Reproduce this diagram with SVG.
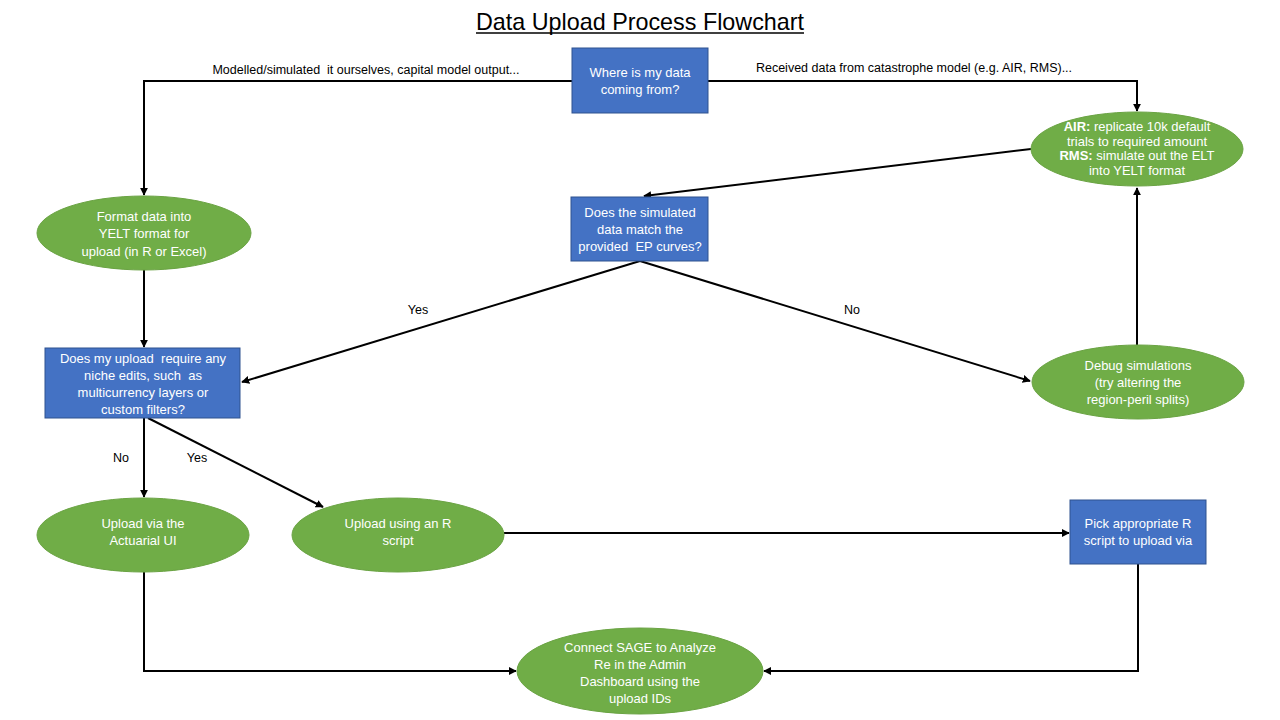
<svg xmlns="http://www.w3.org/2000/svg" width="1280" height="720" viewBox="0 0 1280 720">
<style>
.box{fill:#4472C4;stroke:#2F528F;stroke-width:1}
.ell{fill:#70AD47;stroke:#6AA343;stroke-width:1}
.nt{font-family:"Liberation Sans",Arial,sans-serif;font-size:13px;fill:#FFFFFF;text-anchor:middle}
.lb{font-family:"Liberation Sans",Arial,sans-serif;font-size:12.5px;fill:#000000;text-anchor:middle}
.cn{fill:none;stroke:#000000;stroke-width:2}
</style>
<defs>
<marker id="ah" viewBox="0 0 10 10" refX="9" refY="5" markerWidth="4" markerHeight="4" orient="auto" markerUnits="strokeWidth">
<path d="M0,0 L10,5 L0,10 z" fill="#000000"/>
</marker>
</defs>
<rect width="1280" height="720" fill="#FFFFFF"/>
<g id="title">
<text x="640" y="30" font-family="'Liberation Sans',Arial,sans-serif" font-size="24" text-anchor="middle" fill="#000000" textLength="328" lengthAdjust="spacingAndGlyphs">Data Upload Process Flowchart</text>
<line x1="476" y1="33" x2="804" y2="33" stroke="#000" stroke-width="1.5"/>
</g>
<g id="connectors">
<polyline class="cn" points="572,81 144,81 144,195" marker-end="url(#ah)"/>
<polyline class="cn" points="708,81 1137,81 1137,111" marker-end="url(#ah)"/>
<line class="cn" x1="1031" y1="149" x2="644" y2="196" marker-end="url(#ah)"/>
<line class="cn" x1="144" y1="270" x2="144" y2="347" marker-end="url(#ah)"/>
<line class="cn" x1="640" y1="261" x2="242" y2="382" marker-end="url(#ah)"/>
<line class="cn" x1="640" y1="261" x2="1030" y2="381" marker-end="url(#ah)"/>
<line class="cn" x1="1137" y1="345" x2="1137" y2="188" marker-end="url(#ah)"/>
<line class="cn" x1="144" y1="418" x2="144" y2="497" marker-end="url(#ah)"/>
<line class="cn" x1="148" y1="418" x2="323" y2="507" marker-end="url(#ah)"/>
<line class="cn" x1="504" y1="533" x2="1069" y2="533" marker-end="url(#ah)"/>
<polyline class="cn" points="144,572 144,671 516,671" marker-end="url(#ah)"/>
<polyline class="cn" points="1138,564 1138,671 764,671" marker-end="url(#ah)"/>
<text class="lb" x="366" y="74">Modelled/simulated&#160; it ourselves, capital model output...</text>
<text class="lb" x="914" y="72">Received data from catastrophe model (e.g. AIR, RMS)...</text>
<text class="lb" x="418" y="314">Yes</text>
<text class="lb" x="852" y="314">No</text>
<text class="lb" x="121" y="462">No</text>
<text class="lb" x="197" y="462">Yes</text>
</g>
<g id="n-source">
<rect class="box" x="572" y="48" width="136" height="65"/>
<text class="nt" x="640" y="77">Where is my data</text>
<text class="nt" x="640" y="94">coming from?</text>
</g>
<g id="n-airrms">
<ellipse class="ell" cx="1137" cy="149" rx="106" ry="37"/>
<text class="nt" x="1137" y="131" font-size="11"><tspan font-weight="bold">AIR:</tspan> replicate 10k default</text>
<text class="nt" x="1137" y="146" font-size="11">trials to required amount</text>
<text class="nt" x="1137" y="160" font-size="11"><tspan font-weight="bold">RMS:</tspan> simulate out the ELT</text>
<text class="nt" x="1137" y="175" font-size="11">into YELT format</text>
</g>
<g id="n-format">
<ellipse class="ell" cx="144" cy="233" rx="107" ry="37"/>
<text class="nt" x="144" y="221">Format data into</text>
<text class="nt" x="144" y="238">YELT format for</text>
<text class="nt" x="144" y="256">upload (in R or Excel)</text>
</g>
<g id="n-match">
<rect class="box" x="571" y="197" width="137" height="64"/>
<text class="nt" x="640" y="217">Does the simulated</text>
<text class="nt" x="640" y="234">data match the</text>
<text class="nt" x="640" y="251">provided&#160; EP curves?</text>
</g>
<g id="n-niche">
<rect class="box" x="45" y="348" width="195" height="70"/>
<text class="nt" x="143" y="363">Does my upload&#160; require any</text>
<text class="nt" x="143" y="380">niche edits, such&#160; as</text>
<text class="nt" x="143" y="397">multicurrency layers or</text>
<text class="nt" x="143" y="414">custom filters?</text>
</g>
<g id="n-debug">
<ellipse class="ell" cx="1138" cy="382" rx="106" ry="37"/>
<text class="nt" x="1138" y="370">Debug simulations</text>
<text class="nt" x="1138" y="387">(try altering the</text>
<text class="nt" x="1138" y="404">region-peril splits)</text>
</g>
<g id="n-ui">
<ellipse class="ell" cx="143" cy="535" rx="106" ry="37"/>
<text class="nt" x="143" y="528">Upload via the</text>
<text class="nt" x="143" y="545">Actuarial UI</text>
</g>
<g id="n-rscript">
<ellipse class="ell" cx="398" cy="535" rx="106" ry="37"/>
<text class="nt" x="398" y="528">Upload using an R</text>
<text class="nt" x="398" y="545">script</text>
</g>
<g id="n-pick">
<rect class="box" x="1070" y="500" width="136" height="64"/>
<text class="nt" x="1138" y="528">Pick appropriate R</text>
<text class="nt" x="1138" y="545">script to upload via</text>
</g>
<g id="n-sage">
<ellipse class="ell" cx="640" cy="671" rx="123" ry="43"/>
<text class="nt" x="640" y="652">Connect SAGE to Analyze</text>
<text class="nt" x="640" y="669">Re in the Admin</text>
<text class="nt" x="640" y="686">Dashboard using the</text>
<text class="nt" x="640" y="703">upload IDs</text>
</g>
</svg>
